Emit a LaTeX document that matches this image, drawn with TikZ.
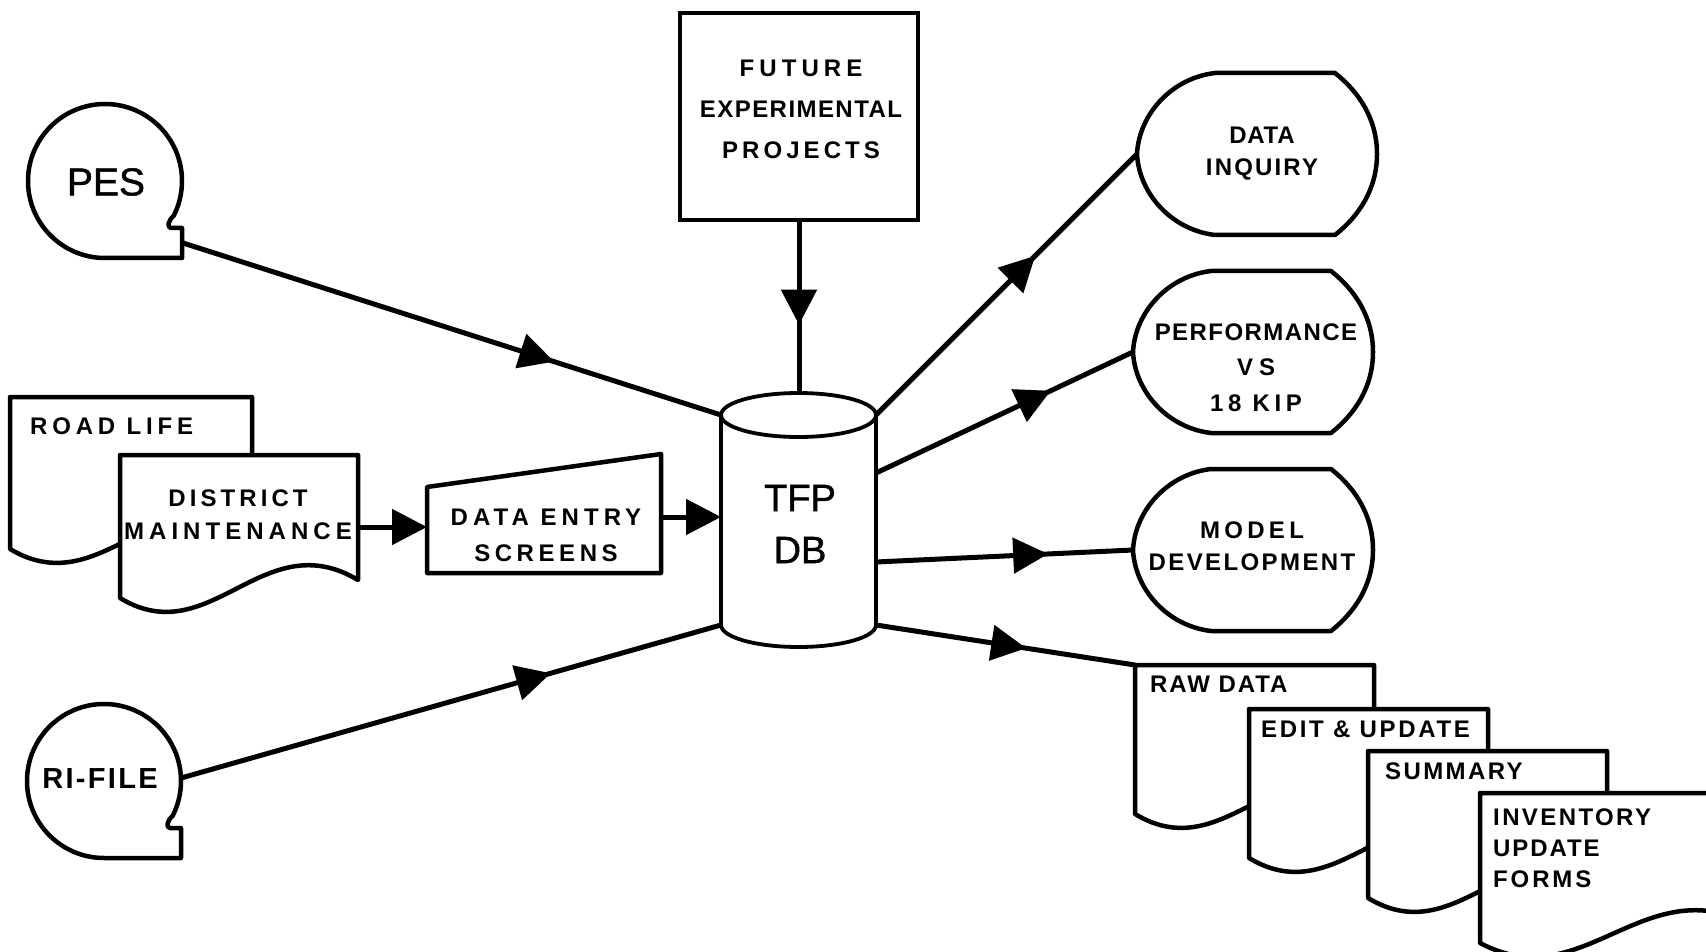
\documentclass[tikz,border=0pt]{standalone}
\usepackage{fontspec}
\setmainfont{Liberation Sans}
\usetikzlibrary{arrows.meta,decorations.markings}
\newcommand\LS[1]{\addfontfeatures{LetterSpace=#1}}
% document symbol: left, top, right, bottom-left y
\newcommand\docshape[4]{%
  \draw[shp] (#1,#2) -- (#3,#2) -- (#3,{#4-18})
    .. controls ({#1+0.6*(#3-#1)},{#4-75}) and ({#1+0.38*(#3-#1)},{#4+55}) .. (#1,#4) -- cycle;}
% tape symbol: centre x, centre y, radius
\newcommand\tapeshape[3]{%
  \draw[shp] (#1,{#2+#3}) arc[start angle=90, end angle=387, radius=#3]
    .. controls +(-6,5) and +(-4,0) .. ({#1+#3-11},{#2+47}) -- ({#1+#3},{#2+47})
    -- ({#1+#3},{#2+#3}) -- cycle;}
% display symbol: left point x, centre y
\newcommand\dispshape[2]{%
  \begin{scope}[shift={(#1,#2)}]
  \draw[shp] (0,0) .. controls (2,-40) and (35,-76) .. (78,-81) -- (198,-81)
    .. controls (222,-62) and (240,-35) .. (240,0)
    .. controls (240,35) and (222,62) .. (198,81) -- (78,81)
    .. controls (35,76) and (2,40) .. (0,0) -- cycle;
  \end{scope}}
\tikzset{
  shp/.style={line width=4.5pt, line join=round, fill=white},
  dbline/.style={line width=3.8pt, line join=round},
  conn/.style={line width=5pt},
  midarrow/.style={postaction={decorate}, decoration={markings,
    mark=at position #1 with {\arrow{Triangle[length=35pt,width=35pt]}}}},
  endarrow/.style={-{Triangle[length=35pt,width=35pt]}},
  lab/.style={font=\bfseries\fontsize{24}{#1}\selectfont, inner sep=0pt, align=center},
  lab/.default=32,
  big/.style={font=\fontsize{38}{52}\selectfont\addfontfeatures{FakeBold=1.2}, inner sep=0pt, align=center},
}
\begin{document}
\begin{tikzpicture}[x=1pt,y=-1pt]
\useasboundingbox (0,0) rectangle (1706,952);
\fill[white] (0,0) rectangle (1706,952);
\clip (0,0) rectangle (1706,952);

% ---------- shapes ----------
\tapeshape{105}{181}{77}
\node[circle, minimum size=154pt, inner sep=0pt, font=\fontsize{39}{44}\selectfont\addfontfeatures{FakeBold=1.2}] (pes) at (106,182) {PES};
\coordinate (pesT) at (183,243);

\tapeshape{104}{781}{77}
\node[circle, minimum size=154pt, inner sep=0pt, font=\bfseries\fontsize{29}{34}\selectfont] (rifile) at (100,779) {\LS{8}RI-FILE};
\coordinate (riR) at (181,778);

\docshape{10}{397}{252}{549}
\node[lab, anchor=west] (roadlife) at (30,426) {\LS{20}ROAD LIFE};
\docshape{120}{455}{358}{598}
\node[lab=33] (district) at (238,515) {{\LS{17}DISTRICT}\\{\LS{21}MAINTENANCE}};
\coordinate (distR) at (358,527);

\draw[shp] (427,487) -- (661,454) -- (661,573) -- (427,573) -- cycle;
\node[lab=36] (dataentry) at (546,535) {{\LS{21}DATA ENTRY}\\{\LS{19}SCREENS}};
\coordinate (deL) at (427,527);
\coordinate (deR) at (661,517);

\node[draw, line width=4.5pt, minimum width=238pt, minimum height=207pt, inner sep=0pt] (future) at (799,116.5) {};
\node[lab=41] (futuretxt) at (801,109) {{\LS{21}FUTURE}\\{\LS{6}EXPERIMENTAL}\\{\LS{17}PROJECTS}};

% database cylinder
\draw[dbline, fill=white] (721,415) -- (721,625) arc[start angle=180, end angle=0, x radius=77.5, y radius=22] -- (876,415);
\draw[dbline] (798.5,415) ellipse [x radius=77.5, y radius=22];
\node[big] (db) at (800,524) {TFP\\DB};
\coordinate (dbTop) at (799,393);
\coordinate (dbTL) at (721,415);
\coordinate (dbTR) at (876,415);
\coordinate (dbBL) at (721,625);
\coordinate (dbBR) at (876,625);
\coordinate (dbL) at (721,517);
\coordinate (dbR1) at (876,473);
\coordinate (dbR2) at (876,562);

% display symbols
\dispshape{1137}{154}
\node[lab=32] (inquiry) at (1262,154) {{\LS{3}DATA}\\{\LS{9}INQUIRY}};
\coordinate (inqL) at (1137,154);
\dispshape{1133}{352}
\node[lab=35.5] (perf) at (1256,367.5) {{\LS{6}PERFORMANCE}\\{\LS{25}VS}\\{\LS{19}18 KIP}};
\coordinate (perfL) at (1133,352);
\dispshape{1133}{550}
\node[lab=32] (model) at (1252,546) {{\LS{18}MODEL}\\{\LS{10}DEVELOPMENT}};
\coordinate (modelL) at (1133,550);

% output documents
\docshape{1135}{665}{1374}{814}
\node[lab, anchor=west] (raw) at (1150,684) {\LS{8}RAW DATA};
\coordinate (rawTL) at (1135,665);
\docshape{1249}{709}{1488}{858}
\node[lab, anchor=west] (edit) at (1261,729) {\LS{11}EDIT \& UPDATE};
\docshape{1368}{751}{1607}{898}
\node[lab, anchor=west] (summary) at (1385,771) {\LS{10}SUMMARY};
\docshape{1480}{793}{1752}{943}
\node[lab=31, anchor=west, align=left] (inventory) at (1493,848) {{\LS{10}INVENTORY}\\{\LS{8}UPDATE}\\{\LS{12}FORMS}};

% ---------- connectors ----------
\draw[conn, midarrow=0.69] (pesT) -- (dbTL);
\draw[conn, midarrow=0.685] (riR) -- (dbBL);
\draw[conn, endarrow] (distR) -- (deL);
\draw[conn, endarrow] (deR) -- (dbL);
\draw[conn, midarrow=0.6] (future.south) -- (dbTop);
\draw[conn, midarrow=0.61] (dbTR) -- (inqL);
\draw[conn, midarrow=0.68] (dbR1) -- (perfL);
\draw[conn, midarrow=0.67] (dbR2) -- (modelL);
\draw[conn, midarrow=0.58] (dbBR) -- (rawTL);
\end{tikzpicture}
\end{document}
